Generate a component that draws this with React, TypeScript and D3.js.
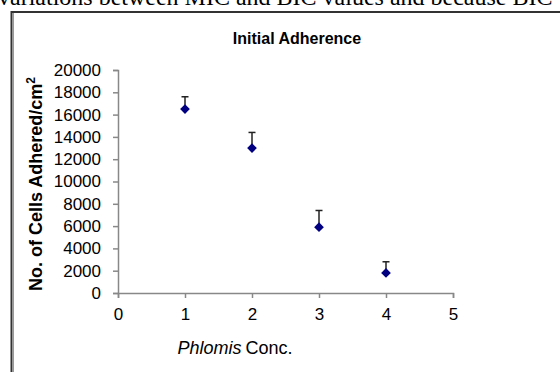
import React, { useEffect, useRef } from 'react';
import * as d3 from 'd3';

const conc = [1, 2, 3, 4];
const cells = [16500, 13000, 5900, 1800];
const errUp = [1100, 1400, 1500, 1000];
const yTicks = [0, 2000, 4000, 6000, 8000, 10000, 12000, 14000, 16000, 18000, 20000];
const xTicks = [0, 1, 2, 3, 4, 5];

function App() {
    const svgRef = useRef<SVGSVGElement>(null);

    useEffect(() => {
        const svg = d3.select(svgRef.current);
        svg.selectAll('*').remove();

        // cut-off line of body text from the page above the chart
        svg.append('text')
            .attr('x', -2)
            .attr('y', 5)
            .style('font-family', '"Liberation Serif", serif')
            .style('font-size', '24px')
            .attr('fill', '#000')
            .text('variations between MIC and BIC values and because BIC');

        // chart frame
        svg.append('line').attr('x1', 11.5).attr('x2', 11.5).attr('y1', 11).attr('y2', 372)
            .attr('stroke', '#333').attr('stroke-width', 2);
        svg.append('line').attr('x1', 13.5).attr('x2', 13.5).attr('y1', 13).attr('y2', 372)
            .attr('stroke', '#999').attr('stroke-width', 1);
        svg.append('line').attr('x1', 11).attr('x2', 560).attr('y1', 12).attr('y2', 12)
            .attr('stroke', '#333').attr('stroke-width', 2);

        const x = d3.scaleLinear().domain([0, 5]).range([118, 453]);
        const y = d3.scaleLinear().domain([0, 20000]).range([293, 70]);

        const font = 'Arial, "Liberation Sans", sans-serif';

        const yAxis = svg.append('g')
            .attr('transform', 'translate(118,0)')
            .call(d3.axisLeft(y).tickValues(yTicks).tickSize(5).tickPadding(12).tickFormat(d3.format('d')));
        const xAxis = svg.append('g')
            .attr('transform', 'translate(0,293)')
            .call(d3.axisBottom(x).tickValues(xTicks).tickSize(5).tickPadding(10).tickFormat(d3.format('d')));

        [yAxis, xAxis].forEach(g => {
            g.select('.domain').attr('stroke', '#888').attr('stroke-width', 1.5);
            g.selectAll('.tick line').attr('stroke', '#888').attr('stroke-width', 1.5);
            g.selectAll('.tick text')
                .style('font-family', font)
                .style('font-size', '17px')
                .attr('fill', '#000');
        });

        // title
        svg.append('text')
            .attr('x', 297)
            .attr('y', 44)
            .attr('text-anchor', 'middle')
            .style('font-family', font)
            .style('font-size', '16px')
            .style('font-weight', 'bold')
            .text('Initial Adherence');

        // y label
        const yl = svg.append('text')
            .attr('transform', 'translate(42,184) rotate(-90)')
            .attr('text-anchor', 'middle')
            .style('font-family', font)
            .style('font-size', '18px')
            .style('font-weight', 'bold');
        yl.append('tspan').text('No. of Cells Adhered/cm');
        yl.append('tspan').attr('dy', -7).style('font-size', '12px').text('2');

        // x label
        const xl = svg.append('text')
            .attr('x', 235)
            .attr('y', 354)
            .attr('text-anchor', 'middle')
            .style('font-family', font)
            .style('font-size', '18px');
        xl.append('tspan').style('font-style', 'italic').text('Phlomis');
        xl.append('tspan').attr('dx', 4).text('Conc.');

        // error bars (upper only)
        const eb = svg.append('g');
        conc.forEach((c, i) => {
            eb.append('line')
                .attr('x1', x(c)).attr('x2', x(c))
                .attr('y1', y(cells[i])).attr('y2', y(cells[i] + errUp[i]))
                .attr('stroke', '#222').attr('stroke-width', 1.5);
            eb.append('line')
                .attr('x1', x(c) - 3.5).attr('x2', x(c) + 3.5)
                .attr('y1', y(cells[i] + errUp[i])).attr('y2', y(cells[i] + errUp[i]))
                .attr('stroke', '#222').attr('stroke-width', 1.5);
        });

        // markers
        const diamond = d3.symbol().type(d3.symbolDiamond2).size(60);
        svg.append('g')
            .selectAll('path')
            .data(conc)
            .join('path')
            .attr('transform', (c, i) => `translate(${x(c)},${y(cells[i])})`)
            .attr('d', diamond())
            .attr('fill', '#000080');
    }, []);

    return (
        <svg
            ref={svgRef}
            width={560}
            height={372}
            style={{ position: 'absolute', left: 0, top: 0, background: '#fff' }}
        />
    );
}

export default App;
